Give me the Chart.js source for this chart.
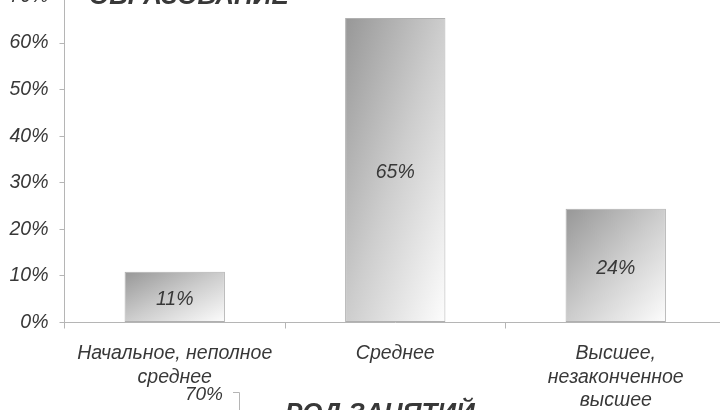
<!DOCTYPE html>
<html>
<head>
<meta charset="utf-8">
<script src="https://cdn.jsdelivr.net/npm/chart.js@4.4.1/dist/chart.umd.min.js"></script>
<style>
  html, body { margin: 0; padding: 0; background: #fff; }
  body { width: 720px; height: 410px; overflow: hidden; position: relative; }
  #eduChart { position: absolute; left: 0; top: -40px; }
</style>
</head>
<body>
<canvas id="eduChart" width="726" height="470"></canvas>
<script>
// Образование — доли респондентов, %
const categories = [['Начальное, неполное', 'среднее'], 'Среднее', ['Высшее,', 'незаконченное', 'высшее']];
const shares = [10.9, 65.4, 24.4];
const yTicks = [0, 10, 20, 30, 40, 50, 60, 70];

const TOP = 40; // canvas сдвинут вверх на 40px
const textColor = '#383838';
const axisColor = '#b5b5b5';
const FONT = '"Liberation Sans", Arial, sans-serif';

// градиент как в Excel: по диагонали, масштабированный под размер столбца
function barGradient(ctx) {
  const chart = ctx.chart;
  const xs = chart.scales.x, ys = chart.scales.y;
  if (!xs || !ys || ctx.dataIndex === undefined) return '#bbb';
  const cx = xs.getPixelForValue(ctx.dataIndex);
  const top = ys.getPixelForValue(shares[ctx.dataIndex]);
  const bottom = ys.getPixelForValue(0);
  if (![cx, top, bottom].every(Number.isFinite)) return '#bbb';
  const w = 100, h = bottom - top;
  const s = 2 * w * h / (w * w + h * h);
  const x0 = cx - w / 2;
  const g = chart.ctx.createLinearGradient(x0, top, x0 + s * h, top + s * w);
  g.addColorStop(0, '#979797');
  g.addColorStop(0.5, '#cdcdcd');
  g.addColorStop(1, '#fdfdfd');
  return g;
}

const labelsPlugin = {
  id: 'labels',
  afterDatasetsDraw(chart) {
    const c = chart.ctx;
    c.save();
    c.fillStyle = textColor;
    c.font = 'italic 19.5px ' + FONT;
    c.textAlign = 'center';
    c.textBaseline = 'middle';
    chart.getDatasetMeta(0).data.forEach((bar, i) => {
      c.fillText(Math.round(shares[i]) + '%', bar.x, (bar.y + bar.base) / 2 + 3);
    });

    // заголовок (обрезан сверху)
    c.textAlign = 'left';
    c.textBaseline = 'alphabetic';
    c.font = 'bold italic 26px ' + FONT;
    c.fillText('ОБРАЗОВАНИЕ', 89, 4 + TOP);

    // фрагмент следующей диаграммы внизу
    c.font = 'italic 19px ' + FONT;
    c.textAlign = 'right';
    c.fillText('70%', 223, 400 + TOP);
    c.strokeStyle = axisColor;
    c.lineWidth = 1;
    c.beginPath();
    c.moveTo(233, 392.5 + TOP);
    c.lineTo(239.5, 392.5 + TOP);
    c.lineTo(239.5, 420 + TOP);
    c.stroke();
    c.textAlign = 'left';
    c.font = 'bold italic 26px ' + FONT;
    c.fillText('РОД ЗАНЯТИЙ', 285, 421 + TOP);
    c.restore();
  }
};

new Chart(document.getElementById('eduChart'), {
  type: 'bar',
  data: {
    labels: categories,
    datasets: [{
      data: shares,
      backgroundColor: barGradient,
      borderColor: '#b0b0b0',
      borderWidth: 1,
      borderSkipped: false,
      categoryPercentage: 1,
      barPercentage: 0.455
    }]
  },
  options: {
    responsive: false,
    animation: false,
    devicePixelRatio: 1,
    layout: { padding: { top: 36.5, right: 0, bottom: 0, left: 0 } },
    plugins: {
      legend: { display: false },
      tooltip: { enabled: false }
    },
    scales: {
      x: {
        afterFit: (s) => { s.height = 107.5; },
        grid: { drawOnChartArea: false, drawTicks: true, tickLength: 6, color: axisColor, offset: true },
        border: { display: true, color: axisColor },
        ticks: {
          color: textColor,
          padding: 13,
          maxRotation: 0,
          autoSkip: false,
          font: { family: FONT, size: 19.5, style: 'italic', lineHeight: 1.22 }
        }
      },
      y: {
        min: 0,
        max: 70,
        afterFit: (s) => { s.width = 64.5; },
        afterBuildTicks: (s) => { s.ticks = yTicks.map(v => ({ value: v })); },
        grid: { drawOnChartArea: false, drawTicks: true, tickLength: 5, color: axisColor },
        border: { display: true, color: axisColor },
        ticks: {
          color: textColor,
          padding: 11,
          callback: (v) => v + '%',
          font: { family: FONT, size: 19.5, style: 'italic' }
        }
      }
    }
  },
  plugins: [labelsPlugin]
});
</script>
</body>
</html>
